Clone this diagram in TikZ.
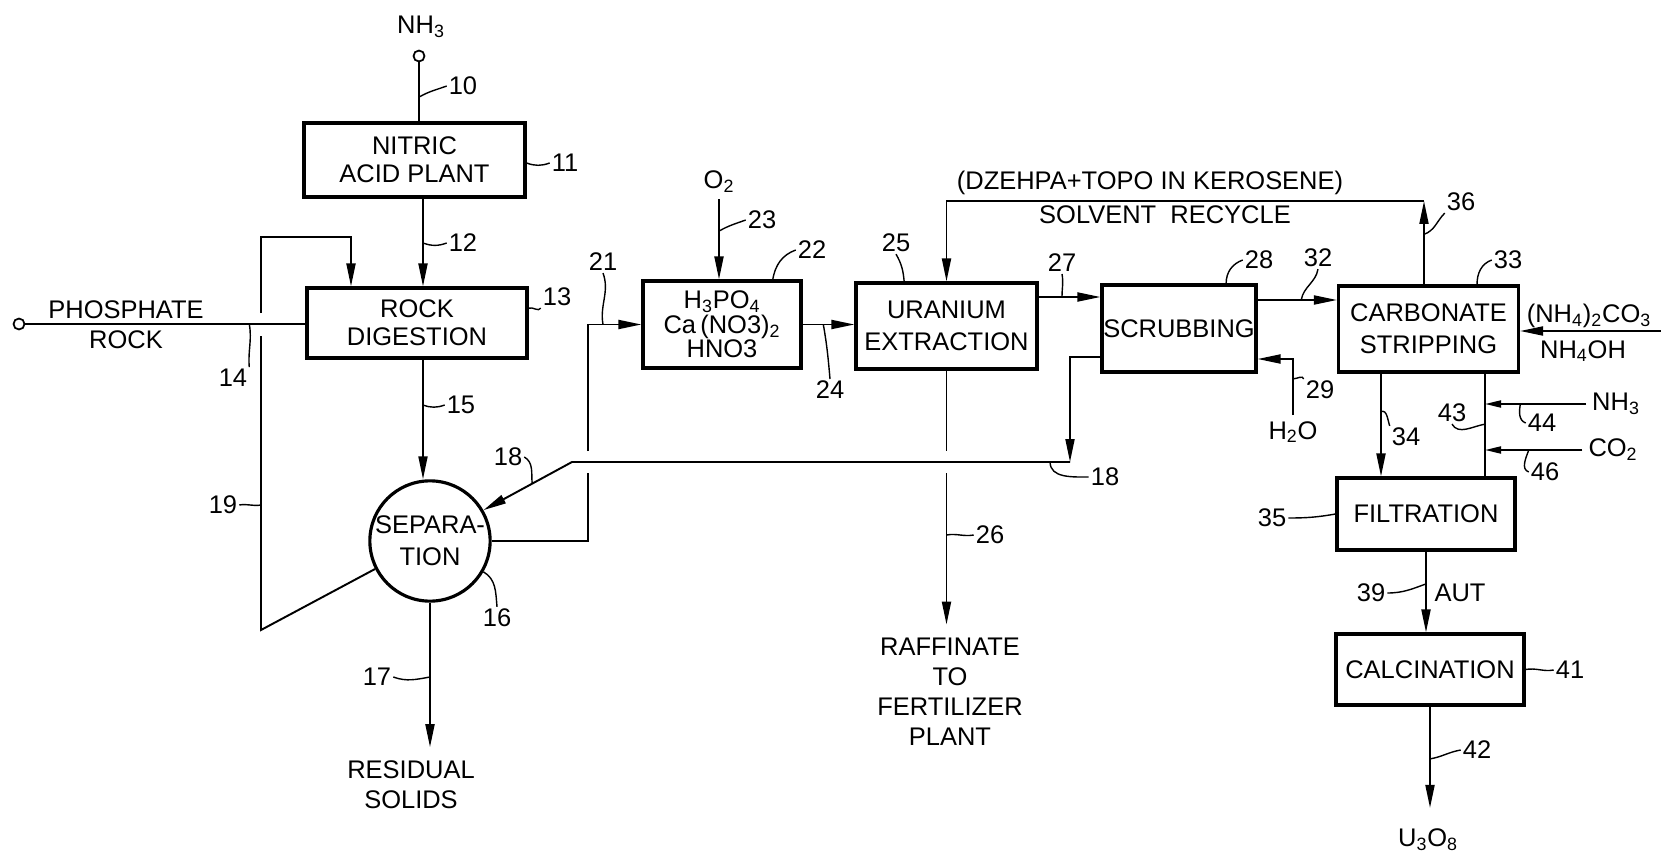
\documentclass[tikz,border=0pt]{standalone}
\usepackage{fontspec}
\setmainfont{Liberation Sans}
\usetikzlibrary{arrows.meta,calc}

\newcommand{\chemsub}[1]{\textsubscript{#1}}

\begin{document}
\begin{tikzpicture}[
    x=0.02cm, y=-0.02cm,
    every node/.style={font=\fontsize{14.5}{17}\selectfont},
    unit/.style={rectangle, draw, line width=1.8pt, align=center, inner sep=0pt},
    sepunit/.style={circle, draw, line width=1.8pt, align=center, inner sep=0pt, minimum size=2.36cm},
    feed/.style={circle, draw, line width=1pt, minimum size=2.2mm, inner sep=0pt},
    txt/.style={align=center, inner sep=2pt},
    num/.style={inner sep=1pt},
    pipe/.style={line width=1.1pt},
    flow/.style={pipe, -{Triangle[length=4.6mm,width=1.8mm]}},
    sflow/.style={pipe, -{Triangle[length=3.2mm,width=1.4mm]}},
    lead/.style={line width=0.8pt}
]
\useasboundingbox (0,0) rectangle (1661,852);

% process units
\node[unit, minimum width=4.42cm, minimum height=1.48cm, font=\fontsize{14.5}{16}\selectfont] (nitric) at (414.5,160) {NITRIC\\ACID PLANT};
\node[unit, minimum width=4.40cm, minimum height=1.40cm, font=\fontsize{14.5}{16}\selectfont] (rock) at (417,323) {ROCK\\DIGESTION};
\node[sepunit, font=\fontsize{14.5}{18}\selectfont] (sep) at (430,541) {SEPARA-\\TION};
\node[unit, minimum width=3.16cm, minimum height=1.74cm, font=\fontsize{14.5}{14}\selectfont] (acid) at (722,324.5) {H\chemsub{3}PO\chemsub{4}\\Ca\,(NO3)\chemsub{2}\\HNO3};
\node[unit, minimum width=3.62cm, minimum height=1.72cm, font=\fontsize{14.5}{18}\selectfont] (extr) at (946.5,326) {URANIUM\\EXTRACTION};
\node[unit, minimum width=3.08cm, minimum height=1.74cm] (scrub) at (1179,328.5) {SCRUBBING};
\node[unit, minimum width=3.60cm, minimum height=1.72cm, font=\fontsize{14.5}{18}\selectfont] (strip) at (1428.5,329) {CARBONATE\\STRIPPING};
\node[unit, minimum width=3.56cm, minimum height=1.44cm] (filt) at (1426,514) {FILTRATION};
\node[unit, minimum width=3.76cm, minimum height=1.42cm] (calc) at (1430,669.5) {CALCINATION};

% feeds and products
\node[feed] (nh3in) at (419,56) {};
\node (nh3top) at (421,27) {NH\chemsub{3}};
\node[feed] (rockin) at (19,324) {};
\node[txt] (phos) at (126,325) {PHOSPHATE\\ROCK};
\node[txt] (resid) at (411,785) {RESIDUAL\\SOLIDS};
\node[txt] (raff) at (950,692) {RAFFINATE\\TO\\FERTILIZER\\PLANT};
\node (o2) at (719,182) {O\chemsub{2}};
\node (dzehpa) at (1150,183) {(DZEHPA+TOPO IN KEROSENE)};
\node (solvent) at (1165,215) {SOLVENT\ \ RECYCLE};
\node (h2o) at (1293,432) {H\chemsub{2}O};
\node (carb) at (1589,316) {(NH\chemsub{4})\chemsub{2}CO\chemsub{3}};
\node (nh4oh) at (1583,351) {NH\chemsub{4}OH};
\node (nh3b) at (1616,404) {NH\chemsub{3}};
\node (co2) at (1613,450) {CO\chemsub{2}};
\node (aut) at (1460,593) {AUT};
\node (u3o8) at (1428,840) {U\chemsub{3}O\chemsub{8}};

% reference numerals
\node[num] (n10) at (463,86) {10};
\node[num] (n11) at (565,163) {11};
\node[num] (n12) at (463,243) {12};
\node[num] (n13) at (557,297) {13};
\node[num] (n14) at (233,378) {14};
\node[num] (n15) at (461,405) {15};
\node[num] (n16) at (497,618) {16};
\node[num] (n17) at (377,677) {17};
\node[num] (n18a) at (508,457) {18};
\node[num] (n18b) at (1105,477) {18};
\node[num] (n19) at (223,505) {19};
\node[num] (n21) at (603,262) {21};
\node[num] (n22) at (812,250) {22};
\node[num] (n23) at (762,220) {23};
\node[num] (n24) at (830,390) {24};
\node[num] (n25) at (896,243) {25};
\node[num] (n26) at (990,535) {26};
\node[num] (n27) at (1062,263) {27};
\node[num] (n28) at (1259,260) {28};
\node[num] (n29) at (1320,390) {29};
\node[num] (n32) at (1318,258) {32};
\node[num] (n33) at (1508,260) {33};
\node[num] (n34) at (1406,437) {34};
\node[num] (n35) at (1272,518) {35};
\node[num] (n36) at (1461,202) {36};
\node[num] (n39) at (1371,593) {39};
\node[num] (n41) at (1570,670) {41};
\node[num] (n42) at (1477,750) {42};
\node[num] (n43) at (1452,413) {43};
\node[num] (n44) at (1542,423) {44};
\node[num] (n46) at (1545,472) {46};

% routing points
\coordinate (c12) at (423,0);
\coordinate (r19a) at (261,630);
\coordinate (r19b) at (351,237);
\coordinate (g19a) at (0,336);
\coordinate (g19b) at (0,313);
\coordinate (s18a) at (1070,357);
\coordinate (s18b) at (1070,462);
\coordinate (s18c) at (572,462);
\coordinate (c21) at (588,0);
\coordinate (g21a) at (0,473);
\coordinate (g21b) at (0,451);
\coordinate (r36) at (1424,201);
\coordinate (c27) at (0,297);
\coordinate (c32) at (0,300);
\coordinate (c29) at (0,359);
\coordinate (c33in) at (1661,331);
\coordinate (c34) at (1381,0);
\coordinate (c43) at (1485,0);

% streams
\draw[pipe] (nh3in) -- (nitric.north -| nh3in);
\draw[flow] (nitric.south -| c12) -- (rock.north -| c12);
\draw[pipe] (rockin) -- (rock.west |- rockin);
\draw[flow] (rock.south -| c12) -- (sep.north -| c12);
\draw[pipe] (sep.207) -- (r19a) -- (r19a |- g19a);
\draw[flow] (r19a |- g19b) -- (r19a |- r19b) -- (r19b) -- (rock.north -| r19b);
\draw[flow, shorten >=2mm] (sep.south) -- (sep.south |- resid.north);
\draw[flow] (scrub.west |- s18a) -- (s18a) -- (s18b);
\draw[flow] (s18b) -- (s18c) -- (sep.30);
\draw[pipe] (sep.east) -- (sep.east -| c21) -- (c21 |- g21a);
\draw[flow] (c21 |- g21b) -- (c21 |- acid.west) -- (acid.west);
\draw[flow] (o2.south) -- (acid.north -| o2.south);
\draw[flow] (acid.east) -- (extr.west |- acid.east);
\draw[pipe] (extr.south) -- (extr.south |- g21b);
\draw[flow, shorten >=2mm] (extr.south |- g21a) -- (extr.south |- raff.north);
\draw[flow] (strip.north -| r36) -- (r36);
\draw[flow] (r36) -- (r36 -| extr.north) -- (extr.north);
\draw[flow] (extr.east |- c27) -- (scrub.west |- c27);
\draw[flow] (scrub.east |- c32) -- (strip.west |- c32);
\draw[flow] (h2o.north) -- (h2o.north |- c29) -- (scrub.east |- c29);
\draw[flow] (c33in) -- (strip.east |- c33in);
\draw[flow] (strip.south -| c34) -- (filt.north -| c34);
\draw[pipe] (strip.south -| c43) -- (filt.north -| c43);
\draw[sflow] (nh3b.west) -- (c43 |- nh3b.west);
\draw[sflow] (co2.west) -- (c43 |- co2.west);
\draw[flow] (filt.south) -- (calc.north -| filt.south);
\draw[flow, shorten >=3mm] (calc.south) -- (calc.south |- u3o8.north);

% leader lines
\draw[lead] (nh3in |- n10.south) to[out=30,in=200] (n10.west);
\draw[lead] (nitric.east |- n11) to[out=-20,in=200] (n11.west);
\draw[lead] (c12 |- n12) to[out=-20,in=200] (n12.west);
\draw[lead] (rock.east |- n13.south) to[out=20,in=240] (n13.south west);
\draw[lead] (n14.north east) to[out=95,in=-80] (n14.north east |- rockin);
\draw[lead] (c12 |- n15) to[out=-20,in=200] (n15.west);
\draw[lead] (sep.-30) to[out=-30,in=95] (n16.north);
\draw[lead] (n17.east) to[out=-20,in=190] (sep.south |- n17);
\draw[lead] (n18a.east) to[out=-30,in=95] ($(s18c)!0.45!(sep.30)$);
\draw[lead] ($(s18b)!0.04!(s18c)$) to[out=-90,in=180] (n18b.west);
\draw[lead] (n19.east) to[out=10,in=190] (r19a |- n19);
\draw[lead] (n21.south) to[out=-70,in=100] (n21.south |- acid.west);
\draw[lead] ($(acid.north)!0.63!(acid.north east)$) to[out=80,in=200] (n22.west);
\draw[lead] (o2.south |- n23.south) to[out=30,in=200] (n23.west);
\draw[lead] ($(acid.east)!0.4!(extr.west |- acid.east)$) to[out=-80,in=95] (n24.north);
\draw[lead] (n25.south) to[out=-60,in=95] ($(extr.north west)!0.54!(extr.north)$);
\draw[lead] (extr.south |- n26) to[out=10,in=190] (n26.west);
\draw[lead] (n27.south) to[out=-80,in=90] (n27.south |- c27);
\draw[lead] ($(scrub.north)!0.6!(scrub.north east)$) to[out=90,in=200] (n28.west);
\draw[lead] (h2o.north |- n29.north) to[out=0,in=110] (n29.north west);
\draw[lead] ($(scrub.east |- c32)!0.55!(strip.west |- c32)$) to[out=80,in=-100] (n32.south);
\draw[lead] ($(strip.north)!0.53!(strip.north east)$) to[out=90,in=200] (n33.west);
\draw[lead] ($(strip.south -| c34)!0.37!(filt.north -| c34)$) to[out=20,in=110] (n34.north west);
\draw[lead] (n35.east) to[out=0,in=190] (filt.west);
\draw[lead] ($(strip.north -| r36)!0.6!(r36)$) to[out=20,in=225] (n36.south west);
\draw[lead] (n39.east) to[out=0,in=200] ($(filt.south)!0.4!(calc.north -| filt.south)$);
\draw[lead] (calc.east) to[out=10,in=190] (n41.west);
\draw[lead] ($(calc.south)!0.45!(calc.south |- u3o8.north)$) to[out=10,in=190] (n42.west);
\draw[lead] (n43.south) to[out=-60,in=190] (c43 |- n43.south);
\draw[lead] (n44.west) to[out=160,in=-100] ($(c43 |- nh3b.west)!0.35!(nh3b.west)$);
\draw[lead] (n46.west) to[out=160,in=-110] ($(c43 |- co2.west)!0.45!(co2.west)$);
\end{tikzpicture}
\end{document}
